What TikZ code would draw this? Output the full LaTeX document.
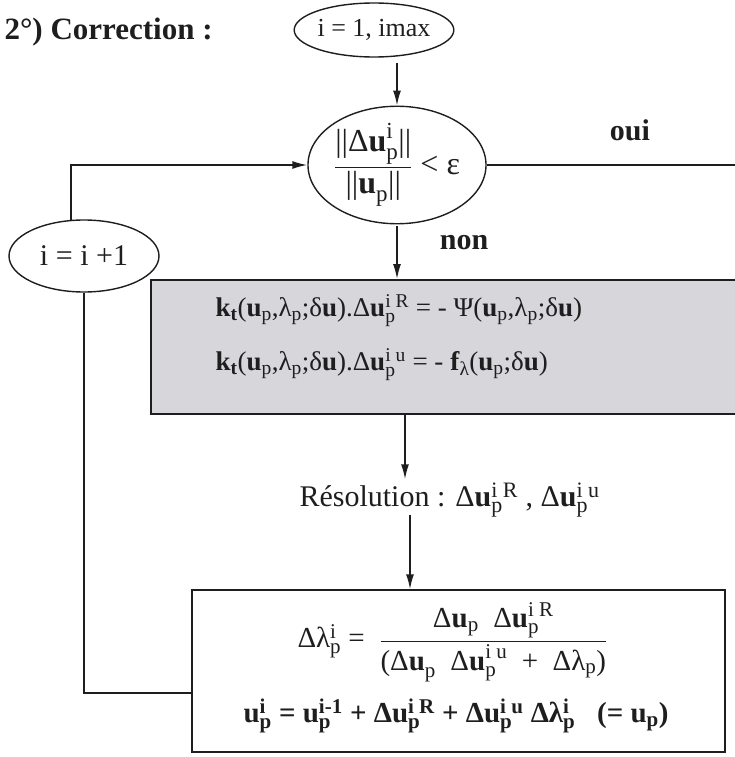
\documentclass[tikz,border=0pt]{standalone}
\usepackage{amsmath}
\usepackage{fontspec}
\setmainfont{Liberation Serif}
\usetikzlibrary{arrows.meta,shapes.geometric,calc}
\DeclareMathSizes{26}{26}{19}{14}
\DeclareMathSizes{27}{27}{19.5}{14}
\DeclareMathSizes{29}{29}{21}{16}
\DeclareMathSizes{30}{30}{22}{16}
\DeclareMathSizes{32}{32}{23}{17}
\newcommand\supsub[2]{\ensuremath{^{\text{#1}}_{\text{#2}}}}
\newcommand\lowr[1]{\ensuremath{_{\text{#1}}}}
\definecolor{boxgray}{RGB}{214,214,219}
\definecolor{ink}{RGB}{30,30,30}
\tikzset{
  every node/.style={font=\fontsize{29}{34}\selectfont, text=ink},
  fml/.style={font=\fontsize{27}{32}\selectfont},
  big/.style={font=\fontsize{30}{35}\selectfont},
  oval/.style={ellipse, draw=ink, line width=1.4pt, inner sep=0pt},
  flow/.style={draw=ink, line width=1.6pt, -{Latex[length=15pt,width=8pt]}},
  plain/.style={draw=ink, line width=1.6pt},
  graybox/.style={rectangle, draw=ink, line width=2pt, fill=boxgray, inner sep=0pt},
  whitebox/.style={rectangle, draw=ink, line width=1.4pt, inner sep=0pt},
  lbl/.style={font=\fontsize{30}{35}\selectfont\bfseries},
}
\begin{document}
\begin{tikzpicture}[x=1pt,y=-1pt]
\useasboundingbox (0,0) rectangle (735,757);
% title
\node[anchor=west, font=\fontsize{31}{36}\selectfont\bfseries] (title) at (1,32) {2°) Correction :};
% ellipses
\node[oval, minimum width=126, minimum height=54, font=\fontsize{26}{30}\selectfont] (e1) at (374,30) {i = 1, imax};
\node[oval, minimum width=178, minimum height=104, font=\fontsize{32}{37}\selectfont] (e2) at (397,165)
  {$\dfrac{\text{||Δ\textbf{u}}^{\text{i}}_{\text{p}}\text{||}}{\text{||\textbf{u}}_{\text{p}}\text{||}}$ < ε};
\node[oval, minimum width=150, minimum height=72, big] (e3) at (84,256) {i = i +1};
% labels
\node[lbl] (oui) at (630,130) {oui};
\node[lbl] (non) at (464,243) {non};
% gray box
\node[graybox, minimum width=596, minimum height=134] (g) at (449,347) {};
\node[fml, anchor=west] (g1) at (212,311) {\textbf{k}\lowr{\textbf{t}}(\textbf{u}\lowr{p},λ\lowr{p};δ\textbf{u}).Δ\textbf{u}\supsub{i R}{p} = - Ψ(\textbf{u}\lowr{p},λ\lowr{p};δ\textbf{u})};
\node[fml, anchor=west] (g2) at (212,365) {\textbf{k}\lowr{\textbf{t}}(\textbf{u}\lowr{p},λ\lowr{p};δ\textbf{u}).Δ\textbf{u}\supsub{i u}{p} = - \textbf{f}\lowr{λ}(\textbf{u}\lowr{p};δ\textbf{u})};
% resolution
\node[big, anchor=west] (r) at (296,500) {Résolution : Δ\textbf{u}\supsub{i R}{p} , Δ\textbf{u}\supsub{i u}{p}};
% bottom box
\node[whitebox, minimum width=533, minimum height=162] (b) at (458.5,671) {};
\node[anchor=west] (b1) at (294,642) {Δλ\supsub{i}{p} = \ $\dfrac{\text{Δ\textbf{u}}_{\text{p}}\text{ \ Δ\textbf{u}}^{\text{i R}}_{\text{p}}}{\text{(Δ\textbf{u}}_{\text{p}}\text{ \ Δ\textbf{u}}^{\text{i u}}_{\text{p}}\text{ \ + \ Δλ}_{\text{p}}\text{)}}$};
\node[anchor=west, font=\fontsize{29}{34}\selectfont\bfseries] (b2) at (240,716) {u\supsub{i}{p} = u\supsub{i-1}{p} + Δu\supsub{i R}{p} + Δu\supsub{i u}{p} Δλ\supsub{i}{p} ~~(= u\lowr{p})};
% connector helper coordinates
\coordinate (a1) at (397,63);
\coordinate (a2) at (397,226);
\coordinate (a3) at (405,500);
\coordinate (a4) at (410,515);
\coordinate (rt) at (735,165);
\coordinate (j) at (192,693);
% connectors
\draw[flow] (a1) -- (e2.north);
\draw[plain] (e2.east) -- (rt);
\draw[flow] (e3.110) |- (e2.west);
\draw[flow] (a2) -- (a2 |- g.north);
\draw[flow] (g.south -| a3) -- (a3 |- r.north);
\draw[flow] (a4) -- (a4 |- b.north);
\draw[plain] (e3.south) |- (j);
\end{tikzpicture}
\end{document}
